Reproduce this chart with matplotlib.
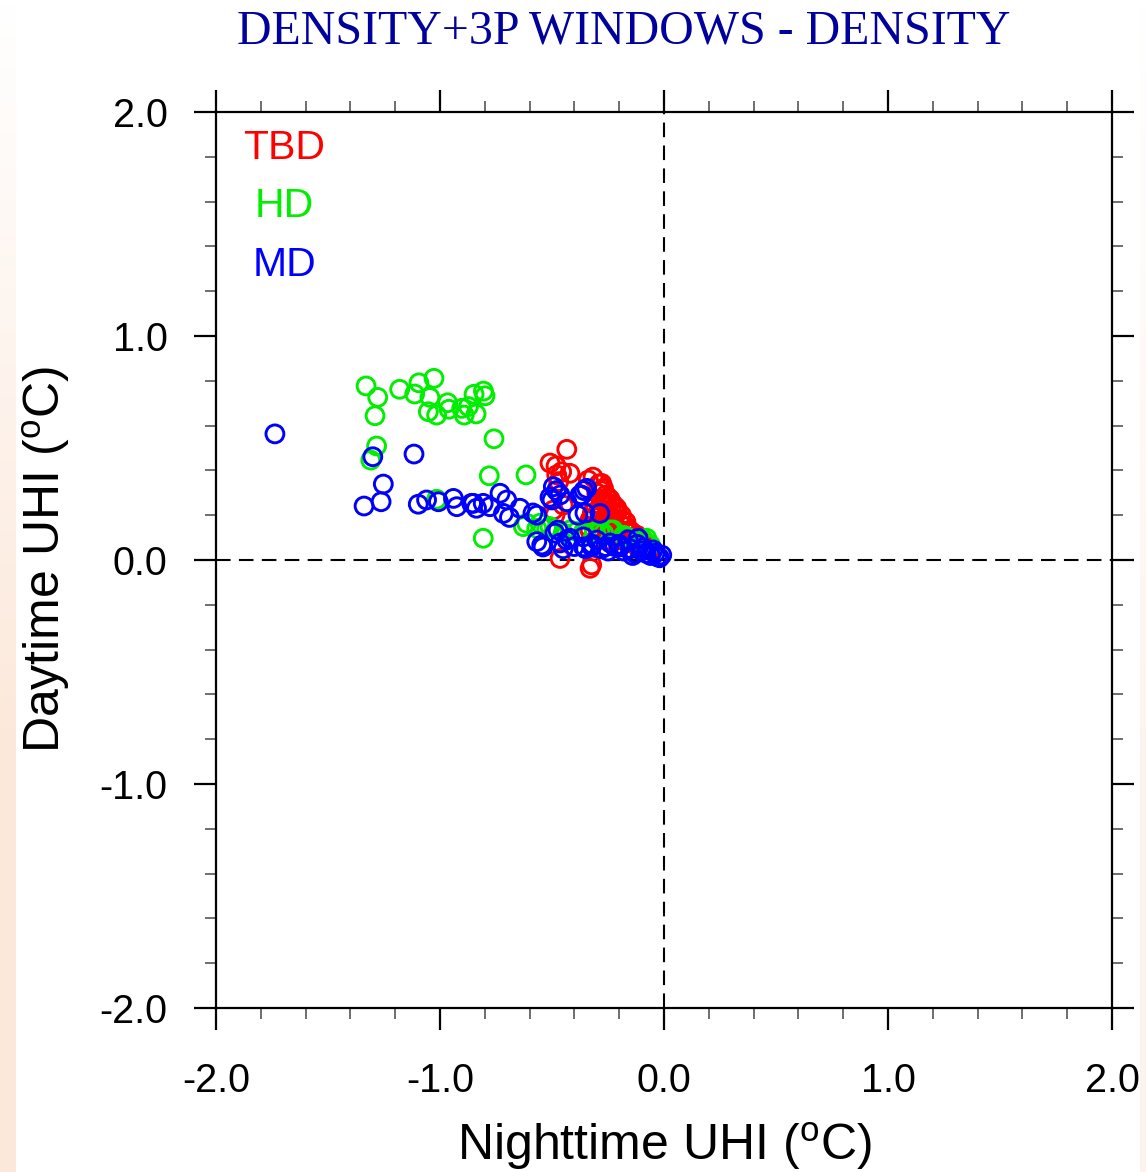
import numpy as np
import matplotlib
matplotlib.use('Agg')
import matplotlib.pyplot as plt
from matplotlib.ticker import MultipleLocator, FormatStrFormatter

plt.rcParams['font.family'] = ['Liberation Sans', 'DejaVu Sans']
plt.rcParams['mathtext.fontset'] = 'custom'
plt.rcParams['mathtext.rm'] = 'Liberation Sans'
plt.rcParams['axes.unicode_minus'] = False

# TBD (red)
tbd_x = [-0.434, -0.482, -0.509, -0.457, -0.479, -0.42, -0.47, -0.338, -0.317, -0.278,
         -0.494, -0.487, -0.45, -0.286, -0.464, -0.33, -0.323,
         -0.29, -0.27, -0.30, -0.26, -0.28, -0.24, -0.31, -0.26, -0.22, -0.29,
         -0.25, -0.21, -0.32, -0.28, -0.24, -0.19, -0.33, -0.27, -0.22, -0.17,
         -0.30, -0.25, -0.20, -0.15, -0.33, -0.28, -0.23, -0.18, -0.13, -0.30,
         -0.25, -0.20, -0.15, -0.10, -0.08, -0.12, -0.06,
         -0.28, -0.25, -0.23, -0.27, -0.21, -0.19, -0.23, -0.17, -0.21, -0.16,
         -0.18, -0.14, -0.12, -0.16, -0.11, -0.09, -0.22, -0.26, -0.31, -0.34]
tbd_y = [0.494, 0.42, 0.433, 0.394, 0.38, 0.387, 0.35, 0.357, 0.37, 0.342,
         0.223, 0.2, 0.245, 0.22, 0.007, -0.037, -0.022,
         0.34, 0.32, 0.30, 0.29, 0.27, 0.27, 0.25, 0.25, 0.24, 0.23,
         0.22, 0.21, 0.21, 0.20, 0.19, 0.18, 0.18, 0.17, 0.16, 0.15,
         0.15, 0.14, 0.13, 0.13, 0.13, 0.12, 0.11, 0.11, 0.10, 0.10,
         0.09, 0.09, 0.08, 0.08, 0.06, 0.06, 0.05,
         0.31, 0.28, 0.25, 0.26, 0.23, 0.20, 0.18, 0.17, 0.14, 0.13,
         0.15, 0.12, 0.11, 0.10, 0.09, 0.07, 0.12, 0.16, 0.19, 0.15]

# HD (green)
hd_x = [-1.33, -1.278, -1.29, -1.18, -1.094, -1.113, -1.027, -1.045, -1.052, -1.015,
        -0.966, -0.96, -0.903, -0.892, -0.873, -0.839, -0.848, -0.806, -0.799, -0.759,
        -1.283, -1.309, -0.78, -1.015, -0.807, -0.616, -0.628,
        -0.613, -0.554, -0.568, -0.524, -0.509, -0.42, -0.39, -0.36, -0.353, -0.31,
        -0.286, -0.24, -0.227, -0.18, -0.167, -0.09, -0.077, -0.06, -0.45, -0.27, -0.12]
hd_y = [0.777, 0.726, 0.644, 0.762, 0.791, 0.741, 0.811, 0.726, 0.662, 0.647,
        0.702, 0.673, 0.677, 0.647, 0.685, 0.652, 0.74, 0.754, 0.733, 0.541,
        0.509, 0.446, 0.376, 0.271, 0.097, 0.38, 0.149,
        0.164, 0.164, 0.141, 0.14, 0.149, 0.134, 0.127, 0.125, 0.12, 0.125,
        0.125, 0.134, 0.134, 0.11, 0.104, 0.09, 0.097, 0.067, 0.12, 0.12, 0.08]

# MD (blue)
md_x = [-1.737, -1.30, -1.116, -1.253, -1.339, -1.263, -1.097, -1.06, -1.007, -0.94,
        -0.925, -0.859, -0.837, -0.807, -0.777, -0.732, -0.717, -0.851, -0.702, -0.69,
        -0.643, -0.585, -0.568, -0.568, -0.546, -0.54, -0.494, -0.48, -0.509, -0.5,
        -0.473, -0.464, -0.464, -0.434, -0.434, -0.487, -0.367, -0.357, -0.345, -0.375,
        -0.384, -0.353, -0.286, -0.42, -0.36, -0.36, -0.323, -0.30, -0.24, -0.196,
        -0.116, -0.094, -0.049, -0.01, -0.45, -0.40, -0.35, -0.32, -0.28, -0.25,
        -0.22, -0.18, -0.15, -0.13, -0.10, -0.08, -0.06, -0.04, -0.03, -0.02,
        -0.12, -0.20, -0.16, -0.26, -0.14]
md_y = [0.563, 0.461, 0.473, 0.339, 0.241, 0.26, 0.249, 0.268, 0.26, 0.275,
        0.238, 0.253, 0.231, 0.253, 0.238, 0.298, 0.208, 0.253, 0.268, 0.19,
        0.231, 0.21, 0.2, 0.082, 0.067, 0.058, 0.327, 0.31, 0.28, 0.268,
        0.134, 0.076, 0.29, 0.26, 0.089, 0.12, 0.29, 0.31, 0.32, 0.29,
        0.2, 0.21, 0.208, 0.097, 0.059, 0.103, 0.06, 0.089, 0.076, 0.059,
        0.097, 0.054, 0.045, 0.022, 0.05, 0.06, 0.05, 0.07, 0.05, 0.04,
        0.06, 0.04, 0.05, 0.03, 0.04, 0.03, 0.02, 0.03, 0.015, 0.01,
        0.07, 0.07, 0.09, 0.06, 0.02]

fig = plt.figure(figsize=(11.46, 11.72), dpi=100)

# slide background strips (white at top, peach lower down)
grad = np.linspace(0, 1, 256).reshape(-1, 1)
peach = np.array([252, 232, 218]) / 255.0
t = np.clip(grad / 0.65, 0, 1)[..., None]
col = np.ones(3) * (1 - t) + peach * t
sl = fig.add_axes([0, 0, 16 / 1146, 1])
sl.imshow(col, aspect='auto', origin='upper', extent=[0, 1, 0, 1])
sl.axis('off')
sr = fig.add_axes([1140 / 1146, 0, 6 / 1146, 1])
sr.imshow(col, aspect='auto', origin='upper', extent=[0, 1, 0, 1], alpha=0.5)
sr.axis('off')

ax = fig.add_axes([216 / 1146, 1 - 1008 / 1172, 896 / 1146, 896 / 1172])
ax.set_xlim(-2, 2)
ax.set_ylim(-2, 2)

ax.axhline(0, color='black', lw=1.5, ls=(0, (7, 4)), zorder=1)
ax.axvline(0, color='black', lw=1.5, ls=(0, (7, 4)), zorder=1)

ms = 165
lw = 2.1
ax.scatter(tbd_x, tbd_y, s=ms, facecolors='none', edgecolors='#ff0000', linewidths=lw, zorder=2)
ax.scatter(hd_x, hd_y, s=ms, facecolors='none', edgecolors='#00ee00', linewidths=lw, zorder=3)
ax.scatter(md_x, md_y, s=ms, facecolors='none', edgecolors='#0000ff', linewidths=lw, zorder=4)

ax.text(0.076, 0.96, 'TBD', color='#ff0000', fontsize=29.5, ha='center', va='center', transform=ax.transAxes)
ax.text(0.076, 0.895, 'HD', color='#00ee00', fontsize=29.5, ha='center', va='center', transform=ax.transAxes)
ax.text(0.076, 0.829, 'MD', color='#0000ff', fontsize=29.5, ha='center', va='center', transform=ax.transAxes)

for s in ax.spines.values():
    s.set_linewidth(1.6)

ax.xaxis.set_major_locator(MultipleLocator(1.0))
ax.yaxis.set_major_locator(MultipleLocator(1.0))
ax.xaxis.set_minor_locator(MultipleLocator(0.2))
ax.yaxis.set_minor_locator(MultipleLocator(0.2))
ax.xaxis.set_major_formatter(FormatStrFormatter('%.1f'))
ax.yaxis.set_major_formatter(FormatStrFormatter('%.1f'))
ax.tick_params(which='both', direction='out', top=True, right=True, labelsize=28.5)
ax.tick_params(which='major', length=16, width=1.6, pad=19)
ax.tick_params(which='minor', length=8, width=1.2, color='#555555')
ax.tick_params(axis='x', which='major', pad=23)

ax.set_xlabel('Nighttime UHI ($^{\\mathrm{o}}$C)', fontsize=36, labelpad=14)
ax.set_ylabel('Daytime UHI ($^{\\mathrm{o}}$C)', fontsize=36, labelpad=20)

fig.text(623.5 / 1146, 1 - 43 / 1172, 'DENSITY+3P WINDOWS - DENSITY', fontsize=34.5,
         family=['Liberation Serif', 'DejaVu Serif'], color='#00009c', ha='center', va='baseline')

fig.savefig('out.png', dpi=100)
